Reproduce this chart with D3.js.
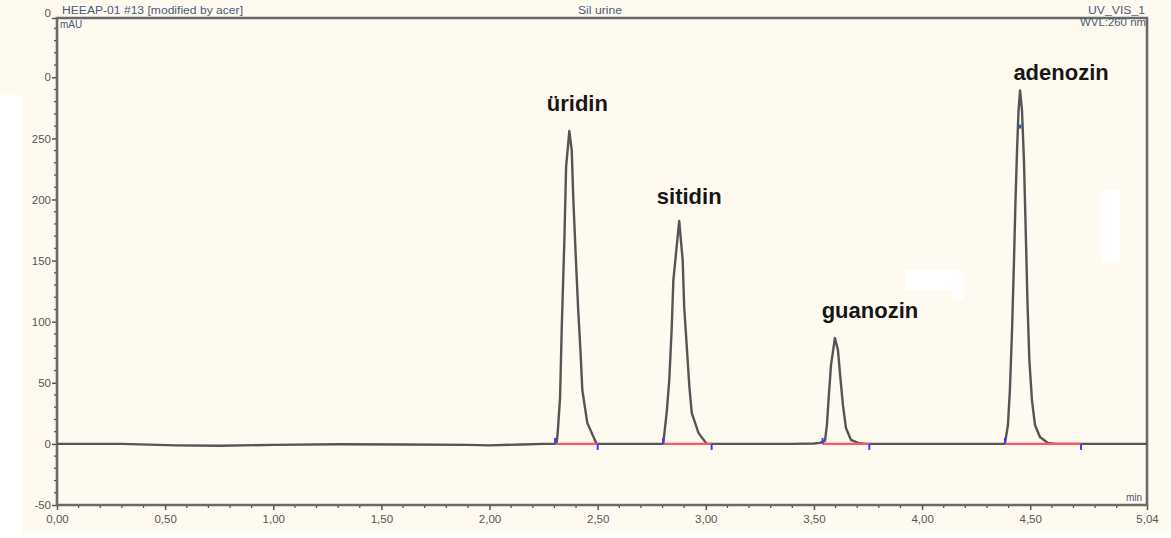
<!DOCTYPE html>
<html>
<head>
<meta charset="utf-8">
<script src="https://cdn.jsdelivr.net/npm/d3@7"></script>
<style>
  body { margin: 0; background: #fff; }
  svg { display: block; }
  .tick-label { font-family: "Liberation Sans", Arial, sans-serif; font-size: 11.5px; fill: #555; }
  .hdr { font-family: "Liberation Sans", Arial, sans-serif; font-size: 10px; fill: #4a5a78; }
  .peak-label { font-family: "Liberation Sans", Arial, sans-serif; font-size: 22px; font-weight: bold; fill: #161616; }
</style>
</head>
<body>
<div class="container"></div>
<script>
// chromatogram trace, time (min) vs mAU
const traceTime = [0.00, 0.30, 0.55, 0.75, 1.00, 1.30, 1.60, 1.90, 2.00, 2.15, 2.25,
  2.310, 2.316, 2.326, 2.334, 2.346, 2.354, 2.369, 2.380, 2.387, 2.398, 2.410, 2.421, 2.429, 2.452, 2.495,
  2.65, 2.803, 2.819, 2.831, 2.842, 2.850, 2.877, 2.893, 2.900, 2.912, 2.924, 2.935, 2.966, 3.004,
  3.20, 3.40, 3.50, 3.527, 3.551, 3.560, 3.569, 3.579, 3.597, 3.611, 3.621, 3.634, 3.648, 3.671, 3.704, 3.741,
  4.00, 4.25, 4.383, 4.397, 4.406, 4.416, 4.425, 4.432, 4.439, 4.446, 4.453, 4.462, 4.471, 4.480, 4.487,
  4.496, 4.508, 4.522, 4.545, 4.582, 4.619, 4.80, 5.04];
const traceMAU = [0, 0, -1.2, -1.5, -0.8, -0.3, -0.5, -0.8, -1.2, -0.5, 0,
  0, 11, 37.6, 95.9, 166.7, 226.6, 256, 240.3, 202, 156, 109.5, 74.4, 44.1, 17.2, 0,
  0, 0, 25.3, 52.3, 93.2, 134, 182.5, 150.4, 112.2, 79.5, 46.8, 25.3, 9, 0,
  0, 0, 0.3, 0.8, 2.5, 15.5, 40, 64.6, 86.6, 76.8, 56.4, 31.9, 13, 3.3, 0.8, 0,
  0, 0, 0, 15.5, 44, 93, 150, 199.4, 240, 273, 289.3, 273, 232, 169, 117.7,
  68.6, 36, 15.5, 5.7, 0.8, 0, 0, 0];

const peakNames = ["üridin", "sitidin", "guanozin", "adenozin"];
const peakApexTime = [2.369, 2.877, 3.597, 4.453];
const peakApexMAU = [256, 182.5, 86.6, 289.3];
const peakStart = [2.303, 2.803, 3.540, 4.383];
const peakEnd = [2.500, 3.027, 3.756, 4.735];

const xTickValues = [0, 0.5, 1.0, 1.5, 2.0, 2.5, 3.0, 3.5, 4.0, 4.5, 5.04];
const xTickLabels = ["0,00", "0,50", "1,00", "1,50", "2,00", "2,50", "3,00", "3,50", "4,00", "4,50", "5,04"];
const yTickValues = [-50, 0, 50, 100, 150, 200, 250, 300, 348.5];
const yTickLabels = ["-50", "0", "50", "100", "150", "200", "250", "0", "0"];

const w = 1171, h = 538;
const mLeft = 57, mRight = 1147, mTop = 18, mBottom = 505;

const svg = d3.select('.container')
    .append('svg')
    .attr('width', w)
    .attr('height', h);

// paper background plus the white scan patches
svg.append('rect').attr('width', w).attr('height', h).attr('fill', '#fffaf0');
svg.append('rect').attr('x', 0).attr('y', 95).attr('width', 22).attr('height', h - 95).attr('fill', '#fff');
svg.append('rect').attr('x', 0).attr('y', 533).attr('width', w).attr('height', 5).attr('fill', '#fff');
svg.append('rect').attr('x', 905).attr('y', 270).attr('width', 58).attr('height', 20).attr('fill', '#fff');
svg.append('rect').attr('x', 953).attr('y', 290).attr('width', 10).attr('height', 10).attr('fill', '#fff');
svg.append('rect').attr('x', 1101).attr('y', 190).attr('width', 19).attr('height', 73).attr('fill', '#fff');

const x = d3.scaleLinear().domain([0, 5.04]).range([mLeft, mRight]);
const y = d3.scaleLinear().domain([-50, 348.5]).range([mBottom, mTop]);

// minor ticks
svg.append('g')
    .selectAll('line')
    .data(d3.range(0, 5.0, 0.1).filter(v => Math.abs(v * 2 - Math.round(v * 2)) > 1e-6))
    .enter().append('line')
    .attr('x1', d => x(d)).attr('x2', d => x(d))
    .attr('y1', mBottom).attr('y2', mBottom + 3)
    .attr('stroke', '#555').attr('stroke-width', 1.3);

svg.append('g')
    .selectAll('line')
    .data(d3.range(-40, 345, 10).filter(v => v % 50 !== 0))
    .enter().append('line')
    .attr('x1', mLeft - 3).attr('x2', mLeft)
    .attr('y1', d => y(d)).attr('y2', d => y(d))
    .attr('stroke', '#555').attr('stroke-width', 1.3);

// major ticks and labels
const xAxis = d3.axisBottom(x)
    .tickValues(xTickValues)
    .tickFormat((d, i) => xTickLabels[i])
    .tickSize(5)
    .tickSizeOuter(0);
svg.append('g')
    .attr('transform', `translate(0,${mBottom})`)
    .call(xAxis)
    .call(g => g.select('.domain').remove())
    .call(g => g.selectAll('line').attr('stroke', '#555').attr('stroke-width', 1.5))
    .call(g => g.selectAll('text').attr('class', 'tick-label').attr('dy', '0.85em'));

const yAxis = d3.axisLeft(y)
    .tickValues(yTickValues)
    .tickFormat((d, i) => yTickLabels[i])
    .tickSize(5)
    .tickSizeOuter(0);
svg.append('g')
    .attr('transform', `translate(${mLeft},0)`)
    .call(yAxis)
    .call(g => g.select('.domain').remove())
    .call(g => g.selectAll('line').attr('stroke', '#555').attr('stroke-width', 1.5))
    .call(g => g.selectAll('text').attr('class', 'tick-label').attr('x', -6))
    .call(g => g.selectAll('.tick:last-of-type text').attr('dy', '-0.1em'));

// frame
svg.append('path')
    .attr('d', `M${mLeft},${mTop}H${mRight}V${mBottom}H${mLeft}Z`)
    .attr('fill', 'none')
    .attr('stroke', '#6a6a6a')
    .attr('stroke-width', 2.6);

// header texts
const hdr = svg.append('g').attr('class', 'hdr');
hdr.append('text').attr('x', 62).attr('y', 14).attr('textLength', 181).attr('lengthAdjust', 'spacingAndGlyphs').text('HEEAP-01 #13 [modified by acer]');
hdr.append('text').attr('x', 578).attr('y', 14).attr('textLength', 44).attr('lengthAdjust', 'spacingAndGlyphs').text('Sil urine');
hdr.append('text').attr('x', 1088).attr('y', 14).attr('textLength', 57).attr('lengthAdjust', 'spacingAndGlyphs').text('UV_VIS_1');
hdr.append('text').attr('x', 1080).attr('y', 26).attr('textLength', 66).attr('lengthAdjust', 'spacingAndGlyphs').text('WVL:260 nm');
hdr.append('text').attr('x', 60).attr('y', 28).text('mAU');
hdr.append('text').attr('x', 1126).attr('y', 501).text('min');

// trace
const trace = traceTime.map((t, i) => [t, traceMAU[i]]);
svg.append('path')
    .datum(trace)
    .attr('fill', 'none')
    .attr('stroke', '#555')
    .attr('stroke-width', 2.4)
    .attr('stroke-linejoin', 'round')
    .attr('d', d3.line().x(d => x(d[0])).y(d => y(d[1])));

// integration baselines
svg.append('g')
    .selectAll('line')
    .data(peakStart)
    .enter().append('line')
    .attr('x1', d => x(d)).attr('x2', (d, i) => x(peakEnd[i]))
    .attr('y1', y(0)).attr('y2', y(0))
    .attr('stroke', '#ff5a5a').attr('stroke-width', 2.4);

// peak start / end markers
svg.append('g')
    .selectAll('rect')
    .data(peakStart)
    .enter().append('rect')
    .attr('x', d => x(d) - 1).attr('y', y(0) - 6)
    .attr('width', 2).attr('height', 6)
    .attr('fill', '#3b3bff');
svg.append('g')
    .selectAll('rect')
    .data(peakEnd)
    .enter().append('rect')
    .attr('x', d => x(d) - 1).attr('y', y(0))
    .attr('width', 2).attr('height', 6)
    .attr('fill', '#3b3bff');
svg.append('rect')
    .attr('x', x(peakApexTime[3]) - 1.5).attr('y', y(peakApexMAU[3] - 28))
    .attr('width', 3).attr('height', 4)
    .attr('fill', '#2d5fa8');

// peak names
svg.append('g')
    .selectAll('text')
    .data(peakNames)
    .enter().append('text')
    .attr('class', 'peak-label')
    .attr('x', (d, i) => x(peakApexTime[i]) + [8, 10, 35, 41][i])
    .attr('y', (d, i) => y(peakApexMAU[i]) - [20, 17, 20, 10][i])
    .attr('text-anchor', 'middle')
    .text(d => d);
</script>
</body>
</html>
